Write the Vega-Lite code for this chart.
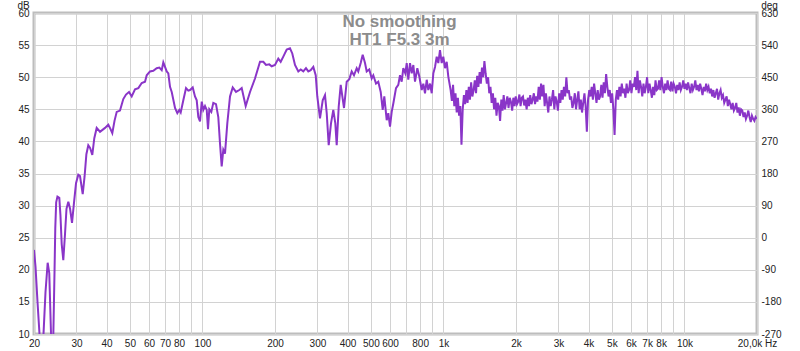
{
"$schema": "https://vega.github.io/schema/vega-lite/v6.json",
"width": 723, "height": 321,
"autosize": {"type": "none"},
"padding": {"left": 34, "top": 13, "right": 43, "bottom": 17},
"background": "white",
"config": {"view": {"stroke": "#bdbdbd", "strokeWidth": 3}, "font": "Liberation Sans"},
"title": {"text": ["No smoothing", "HT1 F5.3 3m"], "anchor": "middle", "frame": "group", "fontSize": 17, "fontWeight": "bold", "color": "#8c8c8c", "lineHeight": 18, "baseline": "top", "offset": -49, "dx": 4, "font": "Liberation Sans"},
"data": {"values": [
{"f":20.0,"db":23.1},{"f":20.29,"db":20.5},{"f":20.68,"db":15.0},{"f":21.08,"db":10.0},{"f":21.48,"db":5.0},{"f":21.9,"db":10.0},{"f":22.32,"db":16.5},{"f":22.79,"db":21.1},{"f":23.14,"db":19.5},{"f":23.53,"db":10.0},{"f":23.8,"db":6.0},{"f":24.06,"db":10.0},{"f":24.34,"db":20.0},{"f":24.51,"db":26.5},{"f":24.72,"db":30.5},{"f":25.02,"db":31.4},{"f":25.47,"db":31.2},{"f":25.75,"db":28.5},{"f":26.06,"db":24.0},{"f":26.46,"db":21.5},{"f":26.89,"db":25.5},{"f":27.28,"db":29.5},{"f":27.76,"db":30.6},{"f":28.23,"db":29.5},{"f":28.76,"db":27.3},{"f":29.32,"db":30.5},{"f":29.88,"db":33.5},{"f":30.54,"db":34.8},{"f":31.04,"db":34.6},{"f":31.5,"db":33.0},{"f":31.85,"db":31.8},{"f":32.42,"db":34.5},{"f":32.99,"db":38.0},{"f":33.6,"db":39.4},{"f":34.17,"db":39.0},{"f":34.91,"db":37.9},{"f":35.58,"db":40.5},{"f":36.4,"db":42.1},{"f":37.57,"db":41.5},{"f":39.42,"db":42.1},{"f":40.68,"db":42.6},{"f":41.46,"db":42.0},{"f":42.26,"db":41.3},{"f":43.16,"db":43.2},{"f":44.08,"db":44.6},{"f":45.48,"db":44.8},{"f":46.94,"db":46.6},{"f":48.17,"db":47.3},{"f":49.58,"db":47.7},{"f":50.87,"db":47.0},{"f":52.5,"db":48.1},{"f":54.19,"db":48.3},{"f":55.98,"db":49.1},{"f":57.77,"db":49.3},{"f":58.71,"db":50.3},{"f":60.59,"db":50.9},{"f":62.52,"db":51.0},{"f":64.59,"db":51.4},{"f":66.22,"db":51.5},{"f":67.76,"db":51.1},{"f":68.8,"db":52.3},{"f":69.93,"db":51.6},{"f":71.07,"db":50.9},{"f":72.17,"db":50.6},{"f":73.35,"db":48.5},{"f":74.56,"db":47.7},{"f":76.95,"db":45.2},{"f":78.65,"db":44.4},{"f":80.17,"db":44.9},{"f":81.25,"db":44.5},{"f":83.29,"db":46.4},{"f":85.47,"db":48.3},{"f":87.36,"db":47.9},{"f":88.8,"db":48.0},{"f":91.12,"db":48.4},{"f":93.13,"db":47.0},{"f":94.67,"db":46.4},{"f":96.12,"db":43.8},{"f":97.7,"db":43.1},{"f":99.32,"db":46.2},{"f":100.84,"db":44.9},{"f":102.48,"db":45.5},{"f":104.17,"db":44.9},{"f":105.45,"db":41.9},{"f":106.77,"db":45.0},{"f":108.83,"db":44.6},{"f":110.93,"db":46.0},{"f":113.82,"db":45.8},{"f":116.34,"db":43.8},{"f":118.26,"db":39.7},{"f":120.18,"db":36.1},{"f":122.05,"db":38.7},{"f":124.03,"db":38.1},{"f":126.8,"db":42.8},{"f":130.12,"db":47.0},{"f":133.52,"db":48.4},{"f":137.8,"db":47.7},{"f":142.21,"db":48.0},{"f":145.49,"db":48.3},{"f":151.16,"db":45.5},{"f":157.53,"db":47.7},{"f":165.21,"db":49.8},{"f":173.31,"db":52.4},{"f":178.87,"db":52.4},{"f":183.55,"db":51.9},{"f":189.38,"db":52.0},{"f":193.79,"db":51.7},{"f":200.0,"db":51.9},{"f":206.4,"db":52.9},{"f":211.2,"db":52.4},{"f":216.5,"db":53.2},{"f":223.7,"db":54.3},{"f":230.8,"db":54.5},{"f":235.9,"db":53.7},{"f":242.1,"db":51.9},{"f":249.9,"db":50.9},{"f":255.7,"db":51.2},{"f":262.1,"db":50.9},{"f":268.9,"db":51.4},{"f":274.9,"db":50.9},{"f":281.3,"db":51.1},{"f":288.4,"db":51.6},{"f":295.1,"db":50.3},{"f":299.6,"db":47.0},{"f":307.4,"db":43.6},{"f":315.5,"db":46.4},{"f":322.5,"db":47.2},{"f":327.8,"db":44.4},{"f":334.1,"db":39.4},{"f":341.5,"db":42.8},{"f":349.1,"db":44.9},{"f":355.9,"db":42.8},{"f":360.6,"db":39.4},{"f":367.6,"db":45.4},{"f":374.7,"db":48.8},{"f":380.6,"db":47.0},{"f":386.7,"db":45.2},{"f":396.8,"db":49.3},{"f":406.8,"db":49.7},{"f":416.2,"db":50.9},{"f":425.4,"db":50.3},{"f":436.5,"db":51.4},{"f":443.2,"db":50.9},{"f":453.6,"db":52.2},{"f":462.3,"db":53.5},{"f":472.6,"db":52.2},{"f":480.3,"db":50.9},{"f":492.4,"db":51.2},{"f":503.8,"db":49.8},{"f":511.6,"db":50.3},{"f":524.9,"db":49.0},{"f":536.6,"db":49.3},{"f":549.1,"db":47.7},{"f":559.7,"db":44.9},{"f":568.3,"db":47.0},{"f":581.5,"db":43.3},{"f":590.4,"db":44.4},{"f":600.1,"db":42.3},{"f":609.9,"db":44.6},{"f":619.4,"db":45.9},{"f":635.5,"db":48.3},{"f":649.6,"db":48.8},{"f":660.3,"db":50.3},{"f":671.0,"db":49.3},{"f":681.5,"db":51.4},{"f":694.6,"db":50.6},{"f":704.0,"db":52.2},{"f":714.8,"db":49.6},{"f":726.5,"db":52.2},{"f":738.4,"db":50.6},{"f":749.9,"db":51.9},{"f":762.0,"db":49.3},{"f":779.1,"db":51.4},{"f":794.1,"db":50.1},{"f":812.4,"db":48.0},{"f":825.0,"db":49.0},{"f":838.4,"db":47.5},{"f":852.3,"db":49.6},{"f":865.3,"db":48.0},{"f":879.6,"db":49.0},{"f":893.9,"db":47.5},{"f":907.8,"db":50.6},{"f":922.6,"db":51.6},{"f":937.6,"db":53.2},{"f":952.0,"db":52.2},{"f":967.5,"db":54.2},{"f":983.4,"db":52.2},{"f":998.5,"db":53.2},{"f":1014.9,"db":51.4},{"f":1031.5,"db":52.4},{"f":1047.5,"db":50.1},
{"f":1071,"db":48.0},{"f":1084,"db":46.3},{"f":1096,"db":48.8},{"f":1109,"db":45.5},{"f":1122,"db":47.5},{"f":1135,"db":44.5},{"f":1148,"db":46.8},{"f":1161,"db":44.0},{"f":1175,"db":45.5},{"f":1188,"db":39.5},{"f":1202,"db":45.0},{"f":1216,"db":47.2},{"f":1230,"db":45.8},{"f":1245,"db":48.0},{"f":1259,"db":46.0},{"f":1274,"db":48.5},{"f":1288,"db":46.5},{"f":1303,"db":49.2},{"f":1318,"db":47.0},{"f":1334,"db":48.0},{"f":1349,"db":49.5},{"f":1365,"db":47.5},{"f":1380,"db":50.2},{"f":1396,"db":48.5},{"f":1413,"db":50.8},{"f":1429,"db":49.0},{"f":1445,"db":51.5},{"f":1462,"db":50.0},{"f":1479,"db":52.5},{"f":1497,"db":50.5},{"f":1514,"db":49.0},{"f":1532,"db":50.0},{"f":1549,"db":47.5},{"f":1567,"db":48.5},{"f":1585,"db":46.0},{"f":1604,"db":47.5},{"f":1622,"db":45.0},{"f":1641,"db":46.8},{"f":1660,"db":44.0},{"f":1679,"db":46.0},{"f":1698,"db":45.5},{"f":1718,"db":43.2},{"f":1738,"db":46.5},{"f":1758,"db":44.8},{"f":1778,"db":47.2},{"f":1799,"db":45.0},{"f":1820,"db":46.0},{"f":1841,"db":47.0},{"f":1862,"db":45.2},{"f":1884,"db":46.8},{"f":1905,"db":46.2},{"f":1928,"db":44.8},{"f":1950,"db":46.8},{"f":1973,"db":45.5},{"f":1995,"db":47.0},{"f":2019,"db":45.8},{"f":2042,"db":46.2},{"f":2066,"db":47.3},{"f":2089,"db":45.5},{"f":2114,"db":46.8},{"f":2138,"db":47.0},{"f":2163,"db":45.6},{"f":2188,"db":46.5},{"f":2214,"db":45.0},{"f":2239,"db":46.8},{"f":2265,"db":45.5},{"f":2291,"db":47.2},{"f":2318,"db":45.8},{"f":2344,"db":46.5},{"f":2372,"db":47.5},{"f":2399,"db":45.8},{"f":2427,"db":47.0},{"f":2455,"db":46.2},{"f":2484,"db":48.5},{"f":2512,"db":46.5},{"f":2541,"db":49.0},{"f":2570,"db":47.0},{"f":2600,"db":48.8},{"f":2630,"db":45.5},{"f":2661,"db":47.5},{"f":2692,"db":46.0},{"f":2723,"db":44.5},{"f":2754,"db":47.0},{"f":2786,"db":45.5},{"f":2818,"db":46.5},{"f":2851,"db":48.0},{"f":2884,"db":45.0},{"f":2917,"db":47.0},{"f":2951,"db":46.2},{"f":2985,"db":44.8},{"f":3020,"db":47.5},{"f":3055,"db":46.0},{"f":3090,"db":48.0},{"f":3126,"db":46.5},{"f":3162,"db":48.5},{"f":3199,"db":47.0},{"f":3236,"db":50.0},{"f":3273,"db":47.5},{"f":3311,"db":48.0},{"f":3350,"db":46.5},{"f":3388,"db":47.0},{"f":3428,"db":45.2},{"f":3467,"db":46.0},{"f":3508,"db":47.5},{"f":3548,"db":45.0},{"f":3589,"db":46.5},{"f":3631,"db":47.8},{"f":3673,"db":45.0},{"f":3715,"db":46.5},{"f":3758,"db":44.5},{"f":3802,"db":46.0},{"f":3846,"db":47.5},{"f":3890,"db":45.5},{"f":3936,"db":41.5},{"f":3981,"db":46.5},{"f":4028,"db":48.0},{"f":4074,"db":47.0},{"f":4122,"db":48.5},{"f":4169,"db":46.5},{"f":4218,"db":49.0},{"f":4266,"db":47.5},{"f":4316,"db":46.0},{"f":4365,"db":48.0},{"f":4416,"db":46.5},{"f":4467,"db":47.0},{"f":4519,"db":48.8},{"f":4571,"db":46.8},{"f":4624,"db":49.2},{"f":4677,"db":47.5},{"f":4732,"db":50.5},{"f":4786,"db":48.5},{"f":4842,"db":47.0},{"f":4898,"db":48.0},{"f":4955,"db":46.0},{"f":5012,"db":47.5},{"f":5070,"db":45.0},{"f":5129,"db":41.0},{"f":5189,"db":46.5},{"f":5248,"db":48.0},{"f":5309,"db":46.5},{"f":5370,"db":48.5},{"f":5433,"db":47.0},{"f":5495,"db":49.0},{"f":5559,"db":47.5},{"f":5623,"db":48.2},{"f":5689,"db":46.8},{"f":5754,"db":49.0},{"f":5821,"db":47.5},{"f":5888,"db":48.0},{"f":5957,"db":49.5},{"f":6026,"db":47.5},{"f":6096,"db":49.0},{"f":6166,"db":48.5},{"f":6238,"db":50.0},{"f":6310,"db":48.0},{"f":6383,"db":51.0},{"f":6457,"db":47.5},{"f":6532,"db":49.5},{"f":6607,"db":48.5},{"f":6684,"db":47.0},{"f":6761,"db":49.0},{"f":6839,"db":47.5},{"f":6918,"db":48.5},{"f":6998,"db":50.0},{"f":7079,"db":47.5},{"f":7161,"db":49.0},{"f":7244,"db":48.0},{"f":7328,"db":46.8},{"f":7413,"db":48.5},{"f":7499,"db":47.2},{"f":7586,"db":49.5},{"f":7674,"db":48.0},{"f":7762,"db":48.2},{"f":7852,"db":49.5},{"f":7943,"db":48.0},{"f":8035,"db":50.0},{"f":8128,"db":48.5},{"f":8223,"db":47.5},{"f":8318,"db":49.0},{"f":8414,"db":48.0},{"f":8511,"db":49.5},{"f":8610,"db":48.2},{"f":8710,"db":48.0},{"f":8811,"db":49.3},{"f":8913,"db":47.8},{"f":9016,"db":49.0},{"f":9120,"db":48.5},{"f":9226,"db":47.5},{"f":9333,"db":48.8},{"f":9441,"db":48.0},{"f":9550,"db":49.2},{"f":9661,"db":48.0},{"f":9772,"db":48.5},{"f":9886,"db":49.5},{"f":10000,"db":48.2},{"f":10116,"db":49.0},{"f":10233,"db":48.0},{"f":10352,"db":49.2},{"f":10471,"db":48.3},{"f":10593,"db":47.5},{"f":10715,"db":49.0},{"f":10840,"db":48.0},{"f":10965,"db":48.5},{"f":11093,"db":49.5},{"f":11220,"db":48.0},{"f":11351,"db":48.8},{"f":11482,"db":47.8},{"f":11616,"db":49.0},{"f":11749,"db":48.2},{"f":11886,"db":47.2},{"f":12023,"db":48.5},{"f":12163,"db":47.8},{"f":12303,"db":49.0},{"f":12446,"db":48.0},{"f":12589,"db":48.5},{"f":12736,"db":47.5},{"f":12882,"db":48.2},{"f":13033,"db":47.0},{"f":13183,"db":48.0},{"f":13337,"db":46.8},{"f":13490,"db":47.5},{"f":13647,"db":48.2},{"f":13804,"db":46.5},{"f":13965,"db":47.5},{"f":14125,"db":48.0},{"f":14290,"db":46.8},{"f":14454,"db":47.2},{"f":14623,"db":46.0},{"f":14791,"db":46.5},{"f":14964,"db":47.0},{"f":15136,"db":45.5},{"f":15312,"db":46.5},{"f":15488,"db":45.8},{"f":15668,"db":45.0},{"f":15849,"db":46.0},{"f":16034,"db":44.8},{"f":16218,"db":45.2},{"f":16407,"db":46.0},{"f":16596,"db":44.5},{"f":16789,"db":45.3},{"f":16982,"db":44.0},{"f":17180,"db":45.0},{"f":17378,"db":44.8},{"f":17580,"db":43.8},{"f":17783,"db":44.5},{"f":17990,"db":43.5},{"f":18197,"db":44.0},{"f":18409,"db":44.8},{"f":18621,"db":43.8},{"f":18838,"db":43.0},{"f":19055,"db":44.0},{"f":19276,"db":43.5},{"f":19498,"db":43.2},{"f":19725,"db":43.8},{"f":19953,"db":43.5}
]},
"resolve": {"axis": {"x": "independent", "y": "independent"}},
"layer": [
{"mark": {"type": "line", "strokeOpacity": 0, "clip": true},
 "encoding": {
  "x": {"field": "f", "type": "quantitative", "scale": {"type": "log", "domain": [20, 20000]},
   "axis": {"orient": "top", "values": [20,30,40,50,60,70,80,90,100,200,300,400,500,600,700,800,900,1000,2000,3000,4000,5000,6000,7000,8000,9000,10000,20000], "labels": false, "ticks": false, "domain": false, "grid": true, "gridColor": "#d2d2d2", "gridWidth": 1, "title": null}},
  "y": {"field": "db", "type": "quantitative", "scale": {"domain": [10, 60]},
   "axis": {"orient": "right", "values": [10,15,20,25,30,35,40,45,50,55,60], "grid": false, "ticks": false, "domain": false, "labelExpr": "(datum.value-10)*18-270", "labelFont": "Liberation Sans", "labelFontSize": 10, "labelColor": "#222", "labelPadding": 4, "labelFlush": false, "labelOverlap": false, "title": "deg", "titleAngle": 0, "titleX": 12, "titleY": -8, "titleAlign": "center", "titleBaseline": "middle", "titleFontSize": 10, "titleFontWeight": "normal", "titleColor": "#222", "titleFont": "Liberation Sans"}}
 }},
{"mark": {"type": "line", "color": "#8a35c8", "strokeWidth": 2, "clip": true},
 "encoding": {
  "x": {"field": "f", "type": "quantitative", "scale": {"type": "log", "domain": [20, 20000]},
   "axis": {"orient": "bottom", "values": [20,30,40,50,60,70,80,100,200,300,400,500,600,800,1000,2000,3000,4000,5000,6000,7000,8000,10000,20000], "grid": false, "ticks": false, "domain": false, "labelExpr": "datum.value >= 20000 ? '20,0k Hz' : (datum.value >= 1000 ? (datum.value/1000) + 'k' : '' + datum.value)", "labelFont": "Liberation Sans", "labelFontSize": 10, "labelColor": "#222", "labelPadding": 4, "labelFlush": false, "labelOverlap": false, "title": null}},
  "y": {"field": "db", "type": "quantitative", "scale": {"domain": [10, 60]},
   "axis": {"orient": "left", "values": [10,15,20,25,30,35,40,45,50,55,60], "grid": true, "gridColor": "#d2d2d2", "ticks": false, "domain": false, "labelFont": "Liberation Sans", "labelFontSize": 10, "labelColor": "#222", "labelPadding": 5, "labelFlush": false, "labelOverlap": false, "title": "dB", "titleAngle": 0, "titleX": -11, "titleY": -8, "titleAlign": "center", "titleBaseline": "middle", "titleFontSize": 10, "titleFontWeight": "normal", "titleColor": "#222", "titleFont": "Liberation Sans"}}
 }}
]
}
